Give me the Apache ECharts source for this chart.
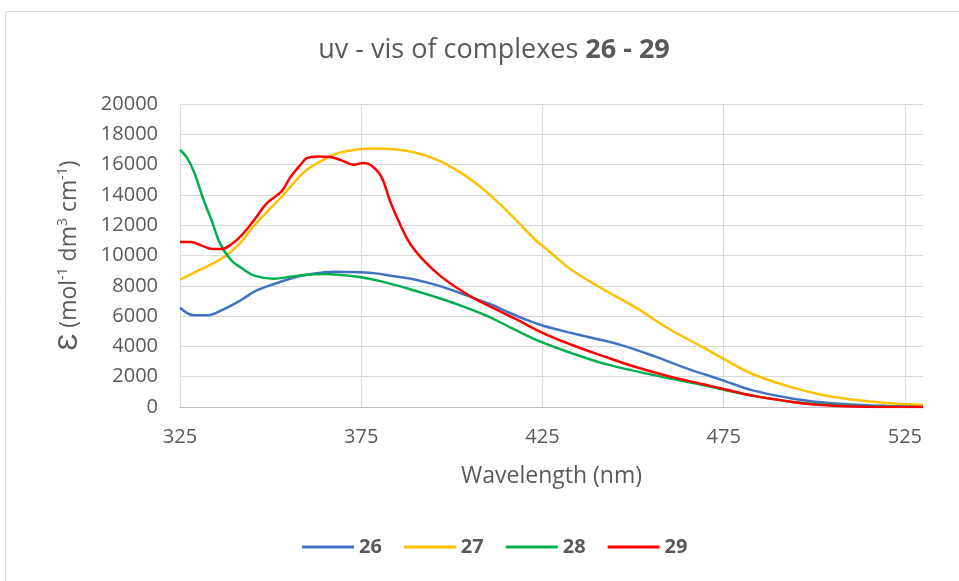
<!DOCTYPE html>
<html>
<head>
<meta charset="utf-8">
<script src="https://cdn.jsdelivr.net/npm/echarts@6/dist/echarts.min.js"></script>
<style>
  html, body { margin: 0; padding: 0; background: #fff; }
  #chart { width: 959px; height: 581px; }
</style>
</head>
<body>
<div id="chart"></div>
<script>
// wavelength (nm) / epsilon pairs, one set per complex
const wl26 = [325, 329, 332.5, 337, 342, 346, 351, 356, 360, 367.5, 375, 379, 383, 390, 397, 404, 411, 415, 420, 425, 433, 440, 447, 456, 465, 475, 483, 493, 502, 511, 520, 530]
const eps26 = [6550, 6050, 6050, 6450, 7080, 7680, 8120, 8510, 8730, 8930, 8890, 8820, 8670, 8400, 7960, 7370, 6750, 6310, 5810, 5380, 4880, 4490, 4070, 3340, 2530, 1740, 1100, 600, 310, 150, 70, 30]

const wl27 = [325, 329, 332.5, 336, 339, 342, 344.5, 348, 353, 356.5, 360, 365, 369.5, 375, 378.5, 384, 389.5, 395, 400.5, 406, 411.5, 417, 423, 427, 433, 442, 451, 460, 470, 475, 483, 493, 502, 511, 520, 530]
const eps27 = [8400, 8890, 9280, 9720, 10230, 10930, 11700, 12630, 13860, 14830, 15660, 16370, 16810, 17030, 17070, 17010, 16810, 16410, 15750, 14890, 13790, 12520, 11040, 10250, 9060, 7740, 6530, 5150, 3850, 3170, 2180, 1360, 810, 480, 260, 130]

const wl28 = [325, 327, 329, 331.5, 334, 336, 339, 342, 345.5, 351, 355.5, 360, 365, 369.5, 375, 380.5, 388, 395, 402.5, 410, 417, 425, 433, 442, 451, 460, 470, 475, 483, 493, 502, 511, 520, 530]
const eps28 = [16980, 16430, 15440, 13680, 12140, 10820, 9720, 9170, 8670, 8470, 8600, 8730, 8780, 8710, 8560, 8290, 7810, 7300, 6690, 5980, 5150, 4260, 3560, 2860, 2350, 1890, 1410, 1140, 750, 370, 180, 70, 20, 0]

const wl29 = [325, 328, 331, 334, 336.5, 339, 342, 345.5, 349, 353, 355.5, 358.5, 360, 363, 366.5, 369.5, 373, 375.5, 377.5, 380.5, 383, 386, 388.5, 392.5, 397, 401.5, 406, 411.5, 418, 425, 433, 442, 451, 460, 470, 475, 483, 493, 502, 511, 520, 530]
const eps29 = [10890, 10890, 10650, 10430, 10430, 10710, 11330, 12360, 13460, 14230, 15180, 16060, 16430, 16540, 16500, 16280, 15990, 16100, 15990, 15220, 13570, 11920, 10780, 9610, 8620, 7850, 7190, 6530, 5760, 4900, 4110, 3340, 2620, 2020, 1470, 1190, 750, 370, 130, 40, 0, 0]

const names = ["26", "27", "28", "29"]
const colors = ["#4472C4", "#FFC000", "#00B050", "#FF0000"]

const pairs = (xs, ys) => xs.map((x, i) => [x, ys[i]])
const seriesData = [pairs(wl26, eps26), pairs(wl27, eps27), pairs(wl28, eps28), pairs(wl29, eps29)]

const font = "'Open Sans', sans-serif"
const grey = "#595959"

const chart = echarts.init(document.getElementById("chart"))

chart.setOption({
  backgroundColor: "#fff",
  animation: false,
  textStyle: { fontFamily: font },
  title: {
    text: "uv - vis of complexes {b|26 - 29}",
    left: 489,
    top: 32,
    textAlign: "center",
    textStyle: {
      fontFamily: font,
      fontSize: 27,
      fontWeight: "normal",
      color: grey,
      rich: {
        b: { fontFamily: font, fontSize: 27, fontWeight: "bold", color: grey }
      }
    }
  },
  graphic: [
    {
      type: "rect",
      silent: true,
      shape: { x: 5.5, y: 11.5, width: 1000, height: 1000 },
      style: { fill: null, stroke: "#d9d9d9", lineWidth: 1 }
    }
  ],
  legend: {
    bottom: 19,
    left: 297,
    itemWidth: 52,
    itemHeight: 3,
    itemGap: 22,
    icon: "rect",
    textStyle: { fontFamily: font, fontSize: 20, fontWeight: "bold", color: grey },
    data: names
  },
  grid: {
    left: 180,
    right: 36,
    top: 104,
    bottom: 174,
    outerBoundsMode: "none"
  },
  xAxis: {
    type: "value",
    min: 325,
    max: 530,
    interval: 50,
    name: "Wavelength (nm)",
    nameLocation: "middle",
    nameGap: 58,
    nameTextStyle: { fontFamily: font, fontSize: 23, color: grey },
    axisLine: { show: true, lineStyle: { color: "#bfbfbf", width: 1 } },
    axisTick: { show: false },
    axisLabel: {
      margin: 20,
      fontSize: 20,
      color: grey,
      showMaxLabel: false
    },
    splitLine: {
      show: true,
      showMinLine: true,
      showMaxLine: false,
      lineStyle: { color: "#d9d9d9", width: 1 }
    }
  },
  yAxis: {
    type: "value",
    min: 0,
    max: 20000,
    interval: 2000,
    name: "{e|Ɛ} (mol{s|-1} dm{s|3} cm{s|-1})",
    nameLocation: "middle",
    nameRotate: 90,
    nameGap: 97,
    nameTextStyle: {
      fontFamily: font,
      fontSize: 23,
      color: grey,
      rich: {
        e: { fontFamily: font, fontSize: 28, color: grey },
        s: { fontFamily: font, fontSize: 14, color: grey, padding: [0, 0, 11, 0] }
      }
    },
    axisLine: { show: false },
    axisTick: { show: false },
    axisLabel: { margin: 22, fontSize: 20, color: grey, formatter: v => String(v) },
    splitLine: { show: true, lineStyle: { color: "#d9d9d9", width: 1 } }
  },
  series: names.map((name, i) => ({
    name,
    type: "line",
    data: seriesData[i],
    showSymbol: false,
    smooth: 0.4,
    color: colors[i],
    lineStyle: { width: 2.5, color: colors[i] }
  }))
})
</script>
</body>
</html>
